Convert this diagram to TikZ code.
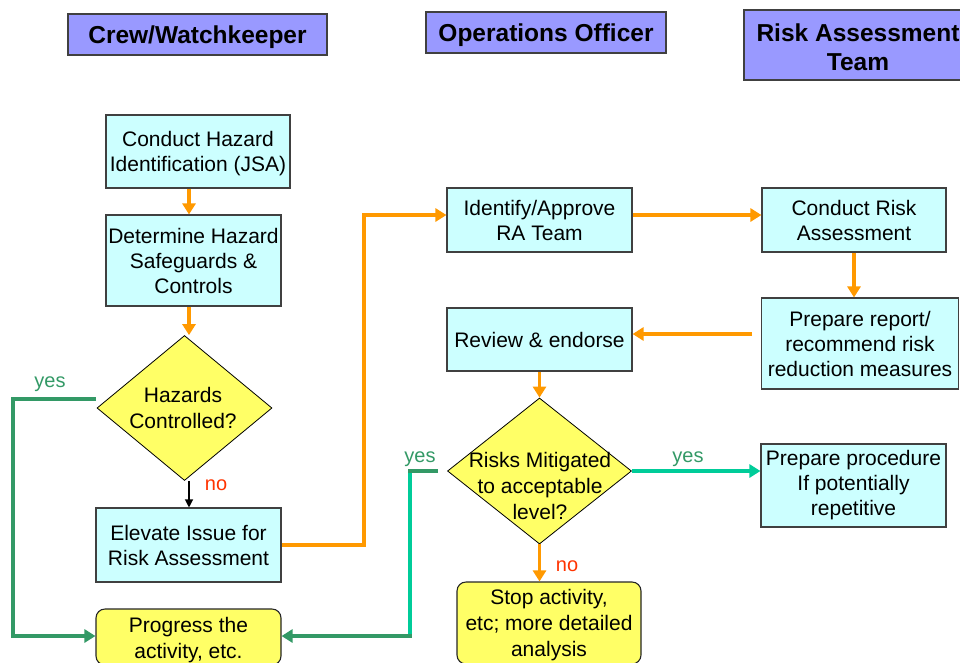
\documentclass[tikz,border=0pt]{standalone}
\usepackage{fontspec}
\setmainfont{Liberation Sans}
\usetikzlibrary{shapes.geometric,arrows.meta,calc}
\definecolor{hdr}{HTML}{9999FF}
\definecolor{cyanbox}{HTML}{CCFFFF}
\definecolor{yel}{HTML}{FFFF66}
\definecolor{orng}{HTML}{FF9900}
\definecolor{dgreen}{HTML}{339966}
\definecolor{tealc}{HTML}{00CC99}
\definecolor{redno}{HTML}{FF3300}
\definecolor{edgec}{HTML}{404040}
\begin{document}
\begin{tikzpicture}[x=1pt,y=-1pt,
  hdrbox/.style={draw=edgec, line width=1.3pt, fill=hdr, inner sep=0pt},
  hdrtext/.style={align=center, inner sep=0pt, font=\fontsize{24.5}{29}\selectfont\bfseries},
  procbox/.style={draw=edgec, line width=1.1pt, fill=cyanbox, inner sep=0pt, align=center,
    font=\fontsize{21}{25}\selectfont},
  termbox/.style={draw=black!85, line width=1.1pt, fill=yel, rounded corners=9pt, inner sep=0pt},
  decision/.style={diamond, draw=black, line width=0.8pt, fill=yel, inner sep=0pt},
  ttext/.style={align=center, inner sep=0pt, font=\fontsize{21}{26}\selectfont},
  lbl/.style={inner sep=0pt, font=\fontsize{20}{24}\selectfont},
  flow/.style={draw=orng, line width=3.5pt, -{Triangle[length=11pt,width=13pt]}},
  gline/.style={draw=dgreen, line width=3.5pt},
  tline/.style={draw=tealc, line width=3.5pt},
  gtip/.style={-{Triangle[length=11pt,width=13pt]}},
  thinflow/.style={draw=black, line width=1.2pt, -{Triangle[length=8pt,width=8pt]}}
]
\useasboundingbox (0,0) rectangle (960,662);
\clip (0,0) rectangle (960,662);

% headers
\node[hdrbox, minimum width=259pt, minimum height=41pt] (hcrew) at (197.5,34.5) {};
\node[hdrtext] (hcrewt) at (197.5,37.5) {Crew/Watchkeeper};
\node[hdrbox, minimum width=240pt, minimum height=41pt] (hops) at (546,32.5) {};
\node[hdrtext] (hopst) at (546,35.5) {Operations Officer};
\node[hdrbox, minimum width=228pt, minimum height=70pt] (hrat) at (858,45) {};
\node[hdrtext] (hratt) at (858,47) {Risk Assessment\\Team};

% crew column
\node[procbox, minimum width=184pt, minimum height=73pt] (jsa) at (198,151.5) {};
\node[ttext, font=\fontsize{21}{25}\selectfont] (jsat) at (198,154) {Conduct Hazard\\Identification (JSA)};
\node[procbox, minimum width=175pt, minimum height=91pt] (det) at (193.5,260.5) {Determine Hazard\\Safeguards \&\\Controls};
\node[decision, minimum width=175pt, minimum height=145pt] (hz) at (184.5,408) {};
\node[ttext] (hzt) at (183,408) {Hazards\\Controlled?};
\node[procbox, minimum width=185pt, minimum height=74pt] (elev) at (188.5,545) {Elevate Issue for\\Risk Assessment};
\node[termbox, minimum width=185pt, minimum height=56pt] (prog) at (188.5,637) {};
\node[ttext] (progt) at (188.5,640) {Progress the\\activity, etc.};

% operations column
\node[procbox, minimum width=185pt, minimum height=64pt] (ident) at (539.5,220) {Identify/Approve\\RA Team};
\node[procbox, minimum width=185pt, minimum height=63pt] (review) at (539.5,339.5) {Review \& endorse};
\node[decision, minimum width=184pt, minimum height=146pt] (risks) at (539.5,471) {};
\node[ttext] (riskst) at (540,486) {Risks Mitigated\\to acceptable\\level?};
\node[termbox, minimum width=184pt, minimum height=82pt] (stop) at (549,623) {};
\node[ttext] (stopt) at (549,625) {Stop activity,\\etc; more detailed\\analysis};

% risk team column
\node[procbox, minimum width=184pt, minimum height=64pt] (crisk) at (854,220) {Conduct Risk\\Assessment};
\node[procbox, minimum width=197pt, minimum height=91pt] (prep) at (860,343.5) {Prepare report/\\recommend risk\\reduction measures};
\node[procbox, minimum width=185pt, minimum height=83pt] (procd) at (853.5,485.5) {Prepare procedure\\If potentially\\repetitive};

% helper coordinates
\coordinate (colA) at (189,0);
\coordinate (colC) at (364,0);
\coordinate (rowB) at (0,215);
\coordinate (prepin) at (752,334);
\coordinate (hzL) at (13,0);
\coordinate (yesR) at (410,0);
\coordinate (rowP) at (0,636);
\coordinate (hystart) at (96,399);
\coordinate (rystart) at (438,471);

% orange flow
\draw[flow] (jsa.south -| colA) -- (det.north -| colA);
\draw[flow] (det.south -| colA) -- (hz.north -| colA);
\draw[thinflow] (hz.south -| colA) -- (elev.north -| colA);
\draw[flow] (elev.east) -- (elev.east -| colC) -- (colC |- rowB) -- (ident.west |- rowB);
\draw[flow] (ident.east |- rowB) -- (crisk.west |- rowB);
\draw[flow] (crisk.south) -- (prep.north -| crisk.south);
\draw[flow] (prepin) -- (review.east |- prepin);
\draw[flow] (review.south) -- (risks.north);
\draw[flow] (risks.south) -- (risks.south |- stop.north);

% yes paths
\draw[gline, gtip] (hystart) -- (hystart -| hzL) -- (hzL |- rowP) -- (prog.west |- rowP);
\draw[tline] (rystart -| yesR) -- (yesR |- rowP);
\draw[gline] (rystart) -- ($(rystart -| yesR)+(-1.75,0)$);
\draw[gline, gtip] ($(yesR |- rowP)+(1.75,0)$) -- (prog.east |- rowP);
\draw[tline, gtip] (risks.east) -- (procd.west |- risks.east);

% labels
\node[lbl, text=dgreen] (l1) at (50,384) {yes};
\node[lbl, text=redno] (l2) at (216,485) {no};
\node[lbl, text=dgreen] (l3) at (420,459) {yes};
\node[lbl, text=dgreen] (l4) at (688,459) {yes};
\node[lbl, text=redno] (l5) at (567,566) {no};
\end{tikzpicture}
\end{document}
